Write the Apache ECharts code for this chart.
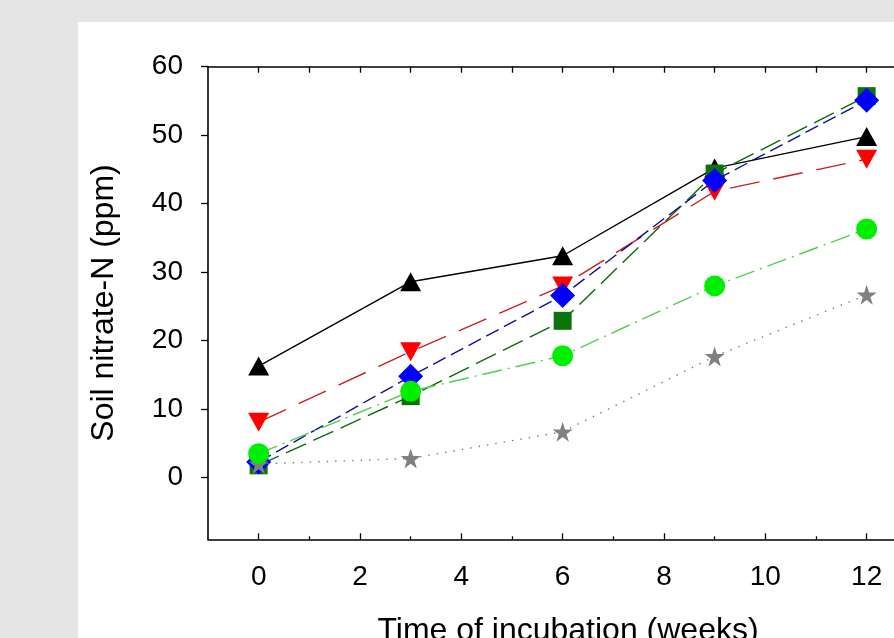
<!DOCTYPE html>
<html>
<head>
<meta charset="utf-8">
<script src="https://cdn.jsdelivr.net/npm/echarts@6/dist/echarts.min.js"></script>
<style>
html,body{margin:0;padding:0;background:#e5e5e5;}
#chart{width:894px;height:638px;}
</style>
</head>
<body>
<div id="chart"></div>
<script>
var weeks = [0, 3, 6, 9, 12];
var seriesTriangle = [16.3, 28.6, 32.4, 45.2, 49.8];
var seriesInvTriangle = [8.1, 18.4, 28.0, 41.8, 46.5];
var seriesSquare = [1.8, 11.9, 22.9, 44.4, 55.7];
var seriesDiamond = [2.3, 14.8, 26.6, 43.4, 55.1];
var seriesStar = [2.0, 2.8, 6.7, 17.7, 26.7];
var seriesCircle = [3.5, 12.6, 17.8, 28.0, 36.3];
var xMajorTicks = [0, 2, 4, 6, 8, 10, 12];
var xMinorTicks = [1, 3, 5, 7, 9, 11];
var xTopTicks = [0, 1, 2, 3, 4, 5, 6, 7, 8, 9, 10, 11, 12];
var yTicks = [0, 10, 20, 30, 40, 50, 60];
var xTitle = 'Time of incubation (weeks)';
var yTitle = 'Soil nitrate-N (ppm)';

function pairs(vals){ return weeks.map(function(w,i){ return [w, vals[i]]; }); }

var FONT = 'Liberation Sans, Arial, sans-serif';
var LABEL_FS = 28, TITLE_FS = 32;
var starPath = 'path://M50,0 L61.8,35.4 L99,35.4 L69,57.3 L80.4,92.7 L50,70.8 L19.6,92.7 L31,57.3 L1,35.4 L38.2,35.4 Z';

var chart = echarts.init(document.getElementById('chart'), null, {renderer:'canvas'});
var option = {
  backgroundColor: '#e5e5e5',
  animation: false,
  graphic: [{
    type: 'rect', z: -10, silent: true,
    shape: {x: 78, y: 22, width: 900, height: 700},
    style: {fill: '#ffffff'}
  }],
  grid: {left: 208, top: 66.7, right: 0, bottom: 98.7, containLabel: false, outerBoundsMode: 'none'},
  xAxis: [
    {
      type: 'value', min: -1, max: 12.54, position: 'bottom',
      axisLine: {show: true, onZero: false, lineStyle: {color: '#000', width: 1.6}},
      axisTick: {show: true, inside: true, length: 6, customValues: xMajorTicks, lineStyle: {color: '#000', width: 1.3}},
      axisLabel: {show: true, customValues: xMajorTicks, margin: 24, fontSize: LABEL_FS, color: '#000', fontFamily: FONT},
      splitLine: {show: false},
      name: xTitle, nameLocation: 'middle', nameGap: 76,
      nameTextStyle: {fontSize: TITLE_FS, color: '#000', fontFamily: FONT, padding: [0, 0, 0, 34]}
    },
    {
      type: 'value', min: -1, max: 12.54, position: 'bottom',
      axisLine: {show: false, onZero: false},
      axisTick: {show: true, inside: true, length: 3, customValues: xMinorTicks, lineStyle: {color: '#000', width: 1.3}},
      axisLabel: {show: false},
      splitLine: {show: false}
    },
    {
      type: 'value', min: -1, max: 12.54, position: 'top',
      axisLine: {show: true, onZero: false, lineStyle: {color: '#000', width: 1.6}},
      axisTick: {show: true, inside: true, length: 6, customValues: xTopTicks, lineStyle: {color: '#000', width: 1.3}},
      axisLabel: {show: false},
      splitLine: {show: false}
    }
  ],
  yAxis: [{
    type: 'value', min: -9, max: 60, position: 'left',
    axisLine: {show: true, onZero: false, lineStyle: {color: '#000', width: 1.6}},
    axisTick: {show: true, inside: false, length: 7, customValues: yTicks, lineStyle: {color: '#000', width: 1.3}},
    axisLabel: {show: true, customValues: yTicks, margin: 25, fontSize: LABEL_FS, color: '#000', fontFamily: FONT},
    splitLine: {show: false},
    name: yTitle, nameLocation: 'middle', nameGap: 88, nameRotate: 90,
    nameTextStyle: {fontSize: TITLE_FS, color: '#000', fontFamily: FONT}
  }],
  series: [
    {
      type: 'line', data: pairs(seriesTriangle), z: 2,
      symbol: 'triangle', symbolSize: [21, 19], showAllSymbol: true,
      lineStyle: {color: '#000', width: 1.4, type: 'solid'},
      itemStyle: {color: '#000'}
    },
    {
      type: 'line', data: pairs(seriesInvTriangle), z: 3,
      symbol: 'triangle', symbolRotate: 180, symbolSize: [21, 19],
      lineStyle: {color: '#c82020', width: 1.4, type: [30, 14]},
      itemStyle: {color: '#ff0000'}
    },
    {
      type: 'line', data: pairs(seriesSquare), z: 4,
      symbol: 'rect', symbolSize: 18,
      lineStyle: {color: '#0a6a0a', width: 1.4, type: [22, 8]},
      itemStyle: {color: '#0a730a'}
    },
    {
      type: 'line', data: pairs(seriesDiamond), z: 5,
      symbol: 'diamond', symbolSize: 25,
      lineStyle: {color: '#101090', width: 1.4, type: [14, 6]},
      itemStyle: {color: '#0000ff'}
    },
    {
      type: 'line', data: pairs(seriesStar), z: 6,
      symbol: starPath, symbolSize: 20,
      lineStyle: {color: '#808080', width: 1.4, type: [1.5, 7]},
      itemStyle: {color: '#808080'}
    },
    {
      type: 'line', data: pairs(seriesCircle), z: 7,
      symbol: 'circle', symbolSize: 21,
      lineStyle: {color: '#50d050', width: 1.4, type: [20, 6, 2, 6]},
      itemStyle: {color: '#00ee00'}
    }
  ]
};
chart.setOption(option);
</script>
</body>
</html>
